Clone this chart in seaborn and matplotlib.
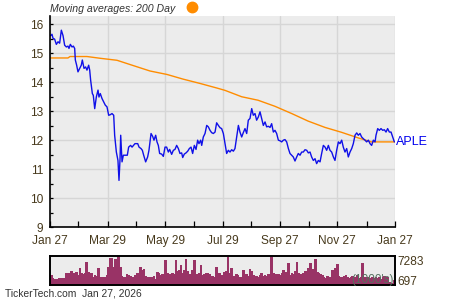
import numpy as np
import pandas as pd
import matplotlib
matplotlib.use("Agg")
import matplotlib.pyplot as plt
import seaborn as sns
from matplotlib.lines import Line2D

# ---------------- data ----------------
# day offsets from Jan 27, 2025
price_day = [0.7, 2.1, 3.2, 4.9, 6.7, 8.5, 10.2, 12.0, 13.8, 15.5, 17.3, 19.0, 20.1, 21.5, 23.3,
             24.7, 26.1, 26.8, 28.2, 29.6, 31.4, 33.1, 34.2, 36.0, 37.7, 39.1, 40.9, 42.0, 43.0,
             44.8, 45.8, 47.3, 49.0, 50.8, 51.8, 53.2, 55.0, 56.8, 58.5, 60.3, 62.1, 63.8, 65.6,
             67.4, 68.4, 70.2, 71.9, 73.0, 74.1, 74.8, 76.2, 77.6, 79.7, 81.8, 83.2, 85.3, 86.8,
             88.9,
             89.9, 92.8, 94.2, 96.3, 97.7, 99.1, 101.2, 103.3, 104.7, 106.9, 108.6, 110.0, 111.8,
             113.2, 114.6, 116.0, 118.1, 119.9, 121.7, 123.4, 125.2, 126.6, 128.7, 130.5, 132.2,
             134.0, 135.8, 137.5, 139.3, 140.4, 142.1, 143.9, 145.7, 147.4, 149.2, 150.9, 152.7,
             154.5, 156.2, 157.6, 159.4, 160.5, 162.2, 164.0, 165.8, 167.5, 169.3, 171.0, 172.8,
             174.6, 176.3, 178.1, 179.9,
             181.6, 183.4, 185.2, 186.9, 188.7, 190.4, 192.2, 194.0, 195.7, 197.5, 199.3, 201.0,
             202.8, 204.5, 206.3, 208.1, 209.8, 211.6, 213.4, 215.1, 216.9, 218.6, 220.4, 222.2,
             223.9, 225.7, 227.5, 229.2, 231.0, 232.8, 234.5, 236.3, 238.0, 239.8, 241.6, 243.3,
             245.1, 246.9, 248.6, 250.4, 252.2, 253.9, 255.7, 257.4, 259.2, 261.0, 262.7, 264.5,
             266.3, 268.0, 269.8,
             271.6, 273.3, 275.1, 276.8, 278.6, 280.4, 282.1, 283.9, 285.7, 287.4, 289.2, 291.0,
             292.7, 294.5, 296.2, 298.0, 299.8, 301.5, 303.3, 305.1, 306.8, 308.6, 310.3, 312.1,
             313.9, 315.6, 317.4, 319.2, 320.9, 322.7, 324.5, 326.2, 328.0, 329.7, 331.5, 333.3,
             335.0, 336.8, 338.6, 340.3, 342.1, 343.9, 344.9, 346.7, 348.4, 350.2, 352.0, 353.7,
             355.5, 357.2, 359.0, 360.8, 362.5, 364.3]
price = [15.61, 15.66, 15.52, 15.49, 15.31, 15.40, 15.35, 15.80, 15.61, 15.28, 15.22, 15.25, 15.17,
         15.31, 15.22, 15.25, 15.17, 14.77, 14.59, 14.36, 14.48, 14.59, 14.77, 14.48, 14.53, 14.42,
         14.59, 14.42, 14.07, 13.61, 13.55, 13.09, 13.49, 13.73, 13.49, 13.61, 13.44, 13.32, 13.21,
         13.15, 12.86, 12.88, 12.92, 12.86, 12.17, 11.59, 11.30, 10.61, 11.36, 12.17, 11.25, 11.48,
         11.48, 11.48, 11.76, 11.82, 11.76, 11.84,
         11.88, 11.88, 11.76, 11.71, 11.65, 11.48, 11.25, 11.42, 11.65, 12.23, 12.13, 12.00, 12.17,
         11.94, 11.82, 11.54, 11.52, 11.44, 11.76, 11.76, 11.59, 11.68, 11.51, 11.65, 11.68, 11.82,
         11.71, 11.54, 11.56, 11.40, 11.52, 11.56, 11.62, 11.71, 11.76, 11.54, 11.82, 11.68, 12.00,
         11.88, 12.00, 11.82, 12.11, 12.23, 12.51, 12.46, 12.34, 12.26, 12.23, 12.28, 12.60, 12.51,
         12.43,
         12.40, 12.23, 11.88, 11.54, 11.65, 11.59, 11.67, 11.62, 11.71, 12.11, 12.51, 12.28, 12.11,
         12.26, 12.40, 12.23, 12.69, 12.75, 13.09, 12.86, 12.92, 12.69, 12.80, 12.98, 12.75, 12.51,
         12.63, 12.46, 12.48, 12.44, 12.57, 12.28, 12.34, 12.23, 12.00, 11.98, 11.94, 12.00, 12.02,
         11.94, 11.71, 11.54, 11.48, 11.42, 11.28, 11.42, 11.54, 11.48, 11.59, 11.59, 11.67,
         11.65, 11.56, 11.59, 11.42, 11.30, 11.36, 11.19, 11.30, 11.25, 11.54, 11.82, 11.76, 11.65,
         11.82, 11.65, 11.59, 11.42, 11.30, 11.65, 11.94, 11.88, 12.00, 11.76, 11.59, 11.71, 11.42,
         11.59, 11.71, 11.88, 12.17, 12.25, 12.17, 12.23, 12.11, 12.05, 12.00, 11.94, 12.00, 11.88,
         11.82, 12.00, 11.94, 12.17, 12.40, 12.34, 12.40, 12.34, 12.36, 12.28, 12.40, 12.28, 12.28,
         12.11, 11.94]

ma_day = [0, 19.0, 21.2, 39.1, 52.9, 70.9, 87.8, 105.8, 123.8, 140.7, 158.7, 176.7, 185.2,
          202.8, 220.1, 238.0, 255.7, 273.0, 291.0, 308.6, 325.9, 340.0, 365.0]
ma_200 = [14.84, 14.84, 14.89, 14.89, 14.83, 14.76, 14.58, 14.39, 14.27, 14.11, 13.96, 13.80,
          13.72, 13.50, 13.38, 13.17, 12.92, 12.66, 12.44, 12.27, 12.08, 11.94, 11.94]

# daily volume, thousands of shares
volume = [2511, 1674, 1423, 1423, 1088, 1674, 1841, 1423, 1674, 2930, 3097, 2930, 3599, 2930, 2762,
          3348, 2511, 4185, 3097, 2762, 2930, 5859, 3348, 2260, 3097, 2093, 2511, 2260, 4185, 1925,
          1925, 1925, 2093, 2511, 4604, 6696, 6696, 4604, 6445, 4604, 7283, 4604, 2260, 2093, 2093,
          2762, 2511, 2260, 2093, 2093, 2511, 3097, 2511, 4604, 3767, 3934, 2260, 2093, 1925, 2093,
          2093, 2260, 1423, 3348, 3097, 2511, 2762, 2762, 6278, 2930, 2762, 2762, 3097, 2762, 6278,
          3599, 3767, 5022, 2930, 3767, 6445, 3599, 2762, 2511, 3767, 6278, 2762, 2762, 2930, 5022,
          2511, 2762, 3097, 2930, 2762, 2260, 2260, 2093, 4604, 2260, 3097, 2511,
          2511, 3348, 3599, 6947, 3097, 4185, 2093, 2260, 2762, 2511, 1925, 2093, 3767, 2762, 2762,
          2260, 3934, 3599, 2511, 2093, 2260, 1925, 2511, 2930, 2260, 2511, 2260, 2762, 2511, 6947,
          2930, 2762, 2260, 2762, 2511, 2930, 3767, 3348, 2762, 5608, 2511, 2930, 2762, 3599, 5859,
          2930, 2762, 2511, 3097, 3599, 2930, 4185, 5441, 3934, 3348, 6445, 3348, 2930, 2762, 2511,
          2093, 1674, 2260, 2093, 1925, 3767, 2511, 4185, 5273, 2260, 2093, 1925, 2260, 2511, 2093,
          1674, 2093, 2260, 1925, 2093, 2511, 1674, 2093, 5608, 2093, 1674, 1925, 1674, 1423, 1925,
          1674, 2093, 1674, 1925, 1423, 2093, 2260, 1925, 2093, 837, 419, 586, 1256]

x_tick_days = [0, 61, 122, 183, 243, 304, 365]
x_tick_labels = ["Jan 27", "Mar 29", "May 29", "Jul 29", "Sep 27", "Nov 27", "Jan 27"]
x_minor_days = [30, 91, 152, 213, 274, 335]
y_ticks = [9, 10, 11, 12, 13, 14, 15, 16]
y_minor = [9.5, 10.5, 11.5, 12.5, 13.5, 14.5, 15.5]
ticker = "APLE"
vol_labels = ["7283", "697"]
title_text = "Moving averages: 200 Day"
footer_text = "TickerTech.com  Jan 27, 2026"

# ---------------- style ----------------
sns.set_theme(style="white")
plt.rcParams['font.family'] = ['Liberation Sans', 'DejaVu Sans']

TXT = '#47391c'
BG = '#ececec'
GRID = '#d6d6d6'
VOLC = '#993366'

fig = plt.figure(figsize=(4.5, 3), dpi=100)
fig.patch.set_facecolor('white')
ax = fig.add_axes([50/450, 1 - 227/300, 345/450, 211/300])
axv = fig.add_axes([50/450, 1 - 285/300, 345/450, 29/300])

price_df = pd.DataFrame({"day": price_day, "price": price})
ma_df = pd.DataFrame({"day": ma_day, "ma": ma_200})
vol_df = pd.DataFrame({"day": np.linspace(0.9, 364.1, len(volume)), "vol": volume})

ax.set_facecolor(BG)
ax.set_axisbelow(True)
ax.grid(True, color=GRID, lw=1.0)
sns.lineplot(data=ma_df, x="day", y="ma", ax=ax, color='#ff8c00', lw=1.0,
             estimator=None, sort=False)
sns.lineplot(data=price_df, x="day", y="price", ax=ax, color='#1010e8', lw=1.0,
             estimator=None, sort=False)
ax.set_xlim(0, 365)
ax.set_ylim(9, 16.29)
ax.set_xticks(x_tick_days)
ax.set_xticklabels(x_tick_labels)
ax.set_xticks(x_minor_days, minor=True)
ax.set_yticks(y_ticks)
ax.set_yticklabels([str(v) for v in y_ticks])
ax.set_yticks(y_minor, minor=True)
ax.set_xlabel("")
ax.set_ylabel("")
for s in ['top', 'right']:
    ax.spines[s].set_visible(False)
for s in ['left', 'bottom']:
    ax.spines[s].set_color('black')
    ax.spines[s].set_linewidth(1.2)
ax.tick_params(axis='x', which='both', direction='in', length=4.5, width=0.9, color='black',
               labelsize=8.6, labelcolor=TXT, pad=6, bottom=True)
ax.tick_params(axis='y', which='both', direction='in', length=2.5, width=0.9, color='black',
               labelsize=8.6, labelcolor=TXT, pad=5, left=True)
ax.text(366.5, price[-1], ticker, color='#0000ee', fontsize=9, va='center', ha='left',
        clip_on=False)

# volume panel
axv.set_facecolor(BG)
sns.barplot(data=vol_df, x="day", y="vol", ax=axv, native_scale=True, width=1.0,
            color=VOLC, saturation=1, linewidth=0.4, edgecolor=VOLC, errorbar=None)
for p in axv.patches:
    p.set_antialiased(False)
axv.set_xlim(0, 365)
axv.set_ylim(0, 7283)
axv.set_xticks([])
axv.set_yticks([])
axv.set_xlabel("")
axv.set_ylabel("")
for s in axv.spines.values():
    s.set_visible(True)
    s.set_color('black')
    s.set_linewidth(1.4)
axv.text(1.008, 0.78, vol_labels[0], transform=axv.transAxes, fontsize=8.6, color=TXT,
         va='center', ha='left')
axv.text(1.008, 0.12, vol_labels[1], transform=axv.transAxes, fontsize=8.6, color=TXT,
         va='center', ha='left')
axv.text(0.995, 0.18, "(1000's)", transform=axv.transAxes, fontsize=8.5, color='#55705f',
         va='center', ha='right')

# header / footer
fig.text(50/450, 1 - 8.5/300, title_text, fontsize=7.6, style='italic', color='#333333',
         va='center', ha='left')
fig.add_artist(Line2D([191.5/450], [1 - 7/300], marker='o', markersize=7.5, color='#ff8c00',
                      transform=fig.transFigure))
fig.text(5/450, 1 - 294/300, footer_text, fontsize=7.4, color='#333333', va='center', ha='left')

fig.savefig("out.png", dpi=100, facecolor='white')
